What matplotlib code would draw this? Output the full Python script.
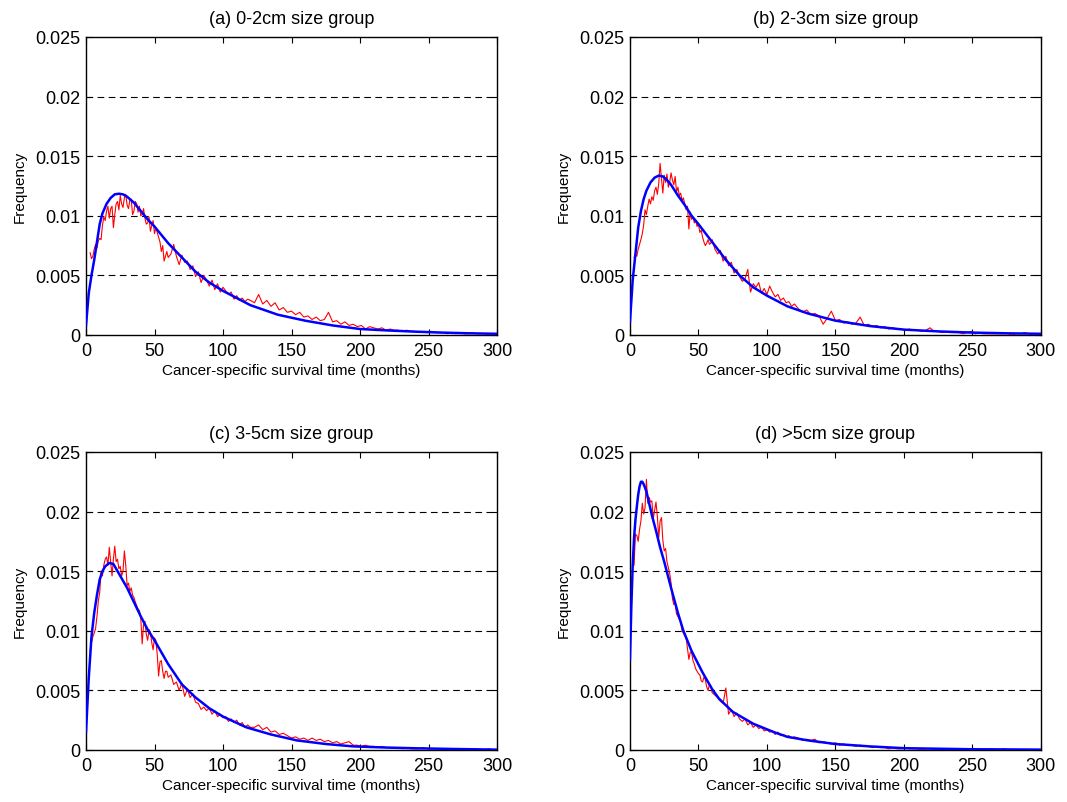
import matplotlib
matplotlib.use("Agg")
import matplotlib.pyplot as plt
from matplotlib.ticker import FixedLocator, FixedFormatter

plt.rcParams['font.family'] = ['Liberation Sans', 'DejaVu Sans']

titles = ["(a) 0-2cm size group", "(b) 2-3cm size group",
          "(c) 3-5cm size group", "(d) >5cm size group"]
xlabel = "Cancer-specific survival time (months)"
ylabel = "Frequency"
xticks = [0, 50, 100, 150, 200, 250, 300]
yticks = [0, 0.005, 0.01, 0.015, 0.02, 0.025]
ytick_labels = ["0", "0.005", "0.01", "0.015", "0.02", "0.025"]

# Observed (red) series: months 3..60 step 1, 62..120 step 2, 123..300 step 3
red_months = list(range(3, 61)) + list(range(62, 121, 2)) + list(range(123, 301, 3))

red_a = [0.0069, 0.0064, 0.0066, 0.0072, 0.0076, 0.0073, 0.0079, 0.0081, 0.0080, 0.0092,
         0.0099, 0.0096, 0.0104, 0.0108, 0.0098, 0.0106, 0.0108, 0.0090, 0.0101, 0.0110,
         0.0112, 0.0105, 0.0117, 0.0110, 0.0107, 0.0115, 0.0118, 0.0109, 0.0106, 0.0113,
         0.0114, 0.0101, 0.0104, 0.0112, 0.0110, 0.0103, 0.0108, 0.0100, 0.0101, 0.0106,
         0.0098, 0.0093, 0.0094, 0.0099, 0.0087, 0.0092, 0.0096, 0.0085, 0.0090, 0.0086,
         0.0082, 0.0078, 0.0070, 0.0075, 0.0062, 0.0066, 0.0070, 0.0065,
         0.0068, 0.0076, 0.0066, 0.0059, 0.0067, 0.0061, 0.0062, 0.0055, 0.0058, 0.0049,
         0.0053, 0.0044, 0.0050, 0.0046, 0.0041, 0.0046, 0.0038, 0.0043, 0.0036, 0.0040,
         0.0037, 0.0034, 0.0036, 0.0030, 0.0033, 0.0029, 0.0031, 0.0028, 0.0030, 0.0029,
         0.0027, 0.0034, 0.0026, 0.0029, 0.0024, 0.0027, 0.0021, 0.0023, 0.0019, 0.0020,
         0.0017, 0.0019, 0.0015, 0.0016, 0.0013, 0.0015, 0.0012, 0.0013, 0.0019, 0.0011,
         0.0012, 0.0009, 0.0011, 0.0008, 0.0009, 0.0007, 0.0008, 0.0005, 0.0007, 0.0006,
         0.0005, 0.0006, 0.0004, 0.0005, 0.0004, 0.0004, 0.0003, 0.0004, 0.0003, 0.0003,
         0.0002, 0.0003, 0.0002, 0.0003, 0.0002, 0.0002, 0.0002, 0.0001, 0.0002, 0.0001,
         0.0002, 0.0001, 0.0001, 0.0002, 0.0001, 0.0001, 0.0001, 0.0000, 0.0001, 0.0001]

red_b = [0.0065, 0.0068, 0.0066, 0.0072, 0.0076, 0.0080, 0.0085, 0.0092, 0.0105, 0.0101,
         0.0108, 0.0114, 0.0110, 0.0116, 0.0113, 0.0121, 0.0124, 0.0118, 0.0127, 0.0144,
         0.0131, 0.0119, 0.0134, 0.0128, 0.0135, 0.0124, 0.0128, 0.0136, 0.0130, 0.0126,
         0.0133, 0.0120, 0.0124, 0.0117, 0.0119, 0.0113, 0.0115, 0.0110, 0.0105, 0.0108,
         0.0089, 0.0103, 0.0097, 0.0099, 0.0094, 0.0096, 0.0091, 0.0093, 0.0086, 0.0088,
         0.0082, 0.0078, 0.0075, 0.0077, 0.0080, 0.0076, 0.0077, 0.0080,
         0.0072, 0.0068, 0.0071, 0.0062, 0.0066, 0.0058, 0.0061, 0.0052, 0.0055, 0.0049,
         0.0045, 0.0047, 0.0055, 0.0036, 0.0043, 0.0040, 0.0044, 0.0035, 0.0039, 0.0034,
         0.0041, 0.0036, 0.0032, 0.0034, 0.0029, 0.0031, 0.0027, 0.0028, 0.0024, 0.0026,
         0.0022, 0.0019, 0.0021, 0.0017, 0.0018, 0.0016, 0.0009, 0.0014, 0.0020, 0.0012,
         0.0013, 0.0010, 0.0011, 0.0009, 0.0010, 0.0015, 0.0008, 0.0009, 0.0007, 0.0008,
         0.0006, 0.0007, 0.0005, 0.0006, 0.0005, 0.0005, 0.0004, 0.0005, 0.0004, 0.0004,
         0.0003, 0.0004, 0.0006, 0.0003, 0.0003, 0.0002, 0.0003, 0.0002, 0.0002, 0.0002,
         0.0001, 0.0002, 0.0003, 0.0001, 0.0002, 0.0001, 0.0001, 0.0001, 0.0001, 0.0001,
         0.0001, 0.0001, 0.0000, 0.0001, 0.0001, 0.0002, 0.0001, 0.0000, 0.0001, 0.0000]

red_c = [0.0083, 0.0090, 0.0095, 0.0098, 0.0102, 0.0112, 0.0125, 0.0132, 0.0150, 0.0146,
         0.0155, 0.0160, 0.0162, 0.0155, 0.0170, 0.0158, 0.0146, 0.0160, 0.0171, 0.0158,
         0.0160, 0.0152, 0.0154, 0.0146, 0.0150, 0.0167, 0.0155, 0.0138, 0.0140, 0.0133,
         0.0136, 0.0130, 0.0128, 0.0124, 0.0121, 0.0118, 0.0117, 0.0110, 0.0089, 0.0105,
         0.0108, 0.0097, 0.0092, 0.0101, 0.0099, 0.0090, 0.0084, 0.0094, 0.0092, 0.0080,
         0.0062, 0.0074, 0.0075, 0.0066, 0.0060, 0.0066, 0.0066, 0.0061,
         0.0063, 0.0055, 0.0057, 0.0050, 0.0056, 0.0045, 0.0051, 0.0044, 0.0047, 0.0040,
         0.0039, 0.0034, 0.0036, 0.0033, 0.0035, 0.0030, 0.0033, 0.0028, 0.0030, 0.0027,
         0.0028, 0.0024, 0.0026, 0.0023, 0.0025, 0.0021, 0.0023, 0.0019, 0.0021, 0.0019,
         0.0019, 0.0021, 0.0017, 0.0019, 0.0015, 0.0016, 0.0013, 0.0014, 0.0012, 0.0010,
         0.0011, 0.0009, 0.0010, 0.0008, 0.0010, 0.0008, 0.0009, 0.0007, 0.0008, 0.0006,
         0.0007, 0.0005, 0.0006, 0.0007, 0.0004, 0.0004, 0.0003, 0.0004, 0.0003, 0.0003,
         0.0002, 0.0003, 0.0002, 0.0002, 0.0002, 0.0002, 0.0001, 0.0002, 0.0001, 0.0001,
         0.0001, 0.0002, 0.0001, 0.0001, 0.0001, 0.0001, 0.0001, 0.0000, 0.0001, 0.0001,
         0.0000, 0.0001, 0.0000, 0.0000, 0.0001, 0.0000, 0.0000, 0.0001, 0.0000, 0.0000]

red_d = [0.0155, 0.0181, 0.0180, 0.0175, 0.0185, 0.0192, 0.0207, 0.0198, 0.0203, 0.0227,
         0.0207, 0.0212, 0.0208, 0.0209, 0.0194, 0.0201, 0.0208, 0.0196, 0.0178, 0.0192,
         0.0195, 0.0176, 0.0167, 0.0169, 0.0158, 0.0153, 0.0148, 0.0140, 0.0127, 0.0122,
         0.0123, 0.0114, 0.0112, 0.0110, 0.0108, 0.0100, 0.0098, 0.0096, 0.0094, 0.0085,
         0.0076, 0.0082, 0.0082, 0.0075, 0.0072, 0.0068, 0.0066, 0.0064, 0.0063, 0.0058,
         0.0057, 0.0061, 0.0059, 0.0053, 0.0050, 0.0055, 0.0054, 0.0048,
         0.0046, 0.0044, 0.0041, 0.0039, 0.0052, 0.0030, 0.0034, 0.0028, 0.0031, 0.0026,
         0.0024, 0.0026, 0.0021, 0.0023, 0.0019, 0.0021, 0.0018, 0.0019, 0.0016, 0.0017,
         0.0015, 0.0016, 0.0013, 0.0015, 0.0012, 0.0013, 0.0011, 0.0012, 0.0010, 0.0011,
         0.0010, 0.0008, 0.0009, 0.0008, 0.0009, 0.0006, 0.0007, 0.0006, 0.0005, 0.0006,
         0.0004, 0.0005, 0.0004, 0.0004, 0.0003, 0.0004, 0.0003, 0.0003, 0.0002, 0.0003,
         0.0002, 0.0002, 0.0001, 0.0002, 0.0001, 0.0001, 0.0002, 0.0001, 0.0001, 0.0001,
         0.0000, 0.0001, 0.0001, 0.0000, 0.0001, 0.0000, 0.0001, 0.0000, 0.0000, 0.0001,
         0.0000, 0.0000, 0.0001, 0.0000, 0.0000, 0.0000, 0.0000, 0.0001, 0.0000, 0.0000,
         0.0001, 0.0000, 0.0000, 0.0000, 0.0000, 0.0000, 0.0000, 0.0000, 0.0000, 0.0000]

# Fitted (blue) curves
blue_x_a = [0, 2, 4, 6, 8, 10, 12, 15, 18, 21, 24, 27, 30, 35, 40, 45, 50, 60, 70, 80,
            90, 100, 110, 120, 140, 160, 180, 200, 220, 240, 260, 280, 300]
blue_a = [0.0008, 0.0035, 0.0050, 0.0063, 0.0078, 0.0093, 0.0102, 0.0110, 0.0115, 0.0118,
          0.01185, 0.0118, 0.0116, 0.0111, 0.0104, 0.0097, 0.0091, 0.0077, 0.0065, 0.0053,
          0.0044, 0.0037, 0.0031, 0.0025, 0.0017, 0.0012, 0.0008, 0.0005, 0.00038, 0.00028,
          0.0002, 0.00014, 0.0001]

blue_x_b = [0, 2, 4, 6, 8, 10, 12, 15, 18, 21, 24, 27, 30, 35, 40, 45, 50, 60, 70, 80,
            90, 100, 115, 130, 150, 175, 200, 225, 250, 275, 300]
blue_b = [0.0011, 0.0046, 0.0068, 0.0090, 0.0104, 0.0114, 0.0121, 0.0128, 0.0132, 0.01337,
          0.0133, 0.0130, 0.0126, 0.0117, 0.0109, 0.0100, 0.0093, 0.0078, 0.0063, 0.0050,
          0.0040, 0.0033, 0.0024, 0.0018, 0.0012, 0.00075, 0.00045, 0.0003, 0.0002, 0.00014,
          0.0001]

blue_x_c = [0, 2, 4, 6, 8, 10, 12, 14, 17, 20, 23, 26, 30, 35, 40, 45, 50, 60, 70, 80,
            90, 100, 117, 135, 154, 175, 195, 220, 241, 270, 300]
blue_c = [0.0015, 0.0060, 0.0095, 0.0115, 0.0130, 0.0143, 0.0150, 0.0154, 0.01569, 0.0156,
          0.0150, 0.0144, 0.0136, 0.0124, 0.0112, 0.0101, 0.0092, 0.0072, 0.0055, 0.0044,
          0.0035, 0.0028, 0.0019, 0.0013, 0.0008, 0.0005, 0.0003, 0.0002, 0.00014, 0.00008,
          0.00003]

blue_x_d = [0, 1, 2, 3, 4, 5, 6, 7, 8, 9, 10, 12, 14, 16, 19, 22, 25, 30, 35, 39, 45, 53,
            60, 65, 75, 90, 105, 115, 130, 150, 175, 200, 250, 300]
blue_d = [0.0076, 0.0120, 0.0155, 0.0178, 0.0193, 0.0204, 0.0214, 0.0221, 0.0225, 0.0225,
          0.0223, 0.0217, 0.0207, 0.0197, 0.0184, 0.0170, 0.0158, 0.0136, 0.0115, 0.0100,
          0.0083, 0.0065, 0.0051, 0.0043, 0.0032, 0.0022, 0.0015, 0.0011, 0.0008, 0.0005,
          0.0003, 0.00015, 0.00006, 0.00003]

reds = [red_a, red_b, red_c, red_d]
blues = [(blue_x_a, blue_a), (blue_x_b, blue_b), (blue_x_c, blue_c), (blue_x_d, blue_d)]

fig = plt.figure(figsize=(10.67, 8.03), dpi=100)
lefts = [0.0806, 0.5904]
bottoms = [0.5816, 0.0648]
w, h = 0.3852, 0.3711

for i in range(4):
    r, c = divmod(i, 2)
    ax = fig.add_axes([lefts[c], bottoms[r], w, h])
    ax.plot(red_months, reds[i], color='red', lw=0.8, zorder=3)
    bx, by = blues[i]
    ax.plot(bx, by, color='blue', lw=1.8, zorder=4)
    ax.set_xlim(0, 300)
    ax.set_ylim(0, 0.025)
    ax.xaxis.set_major_locator(FixedLocator(xticks))
    ax.yaxis.set_major_locator(FixedLocator(yticks))
    ax.yaxis.set_major_formatter(FixedFormatter(ytick_labels))
    ax.tick_params(direction='in', top=True, right=True, length=4, width=0.8,
                   labelsize=13, colors='black')
    ax.tick_params(axis='x', pad=5)
    ax.tick_params(axis='y', pad=4)
    for s in ax.spines.values():
        s.set_linewidth(1.0)
        s.set_color('black')
    for yv in yticks[1:-1]:
        ax.axhline(yv, color='black', lw=0.8, ls=(0, (6, 4)), zorder=1)
    ax.set_title(titles[i], fontsize=13, pad=10)
    ax.set_xlabel(xlabel, fontsize=11, labelpad=3)
    ax.set_ylabel(ylabel, fontsize=11, labelpad=6)

fig.savefig("out.png", dpi=100)
